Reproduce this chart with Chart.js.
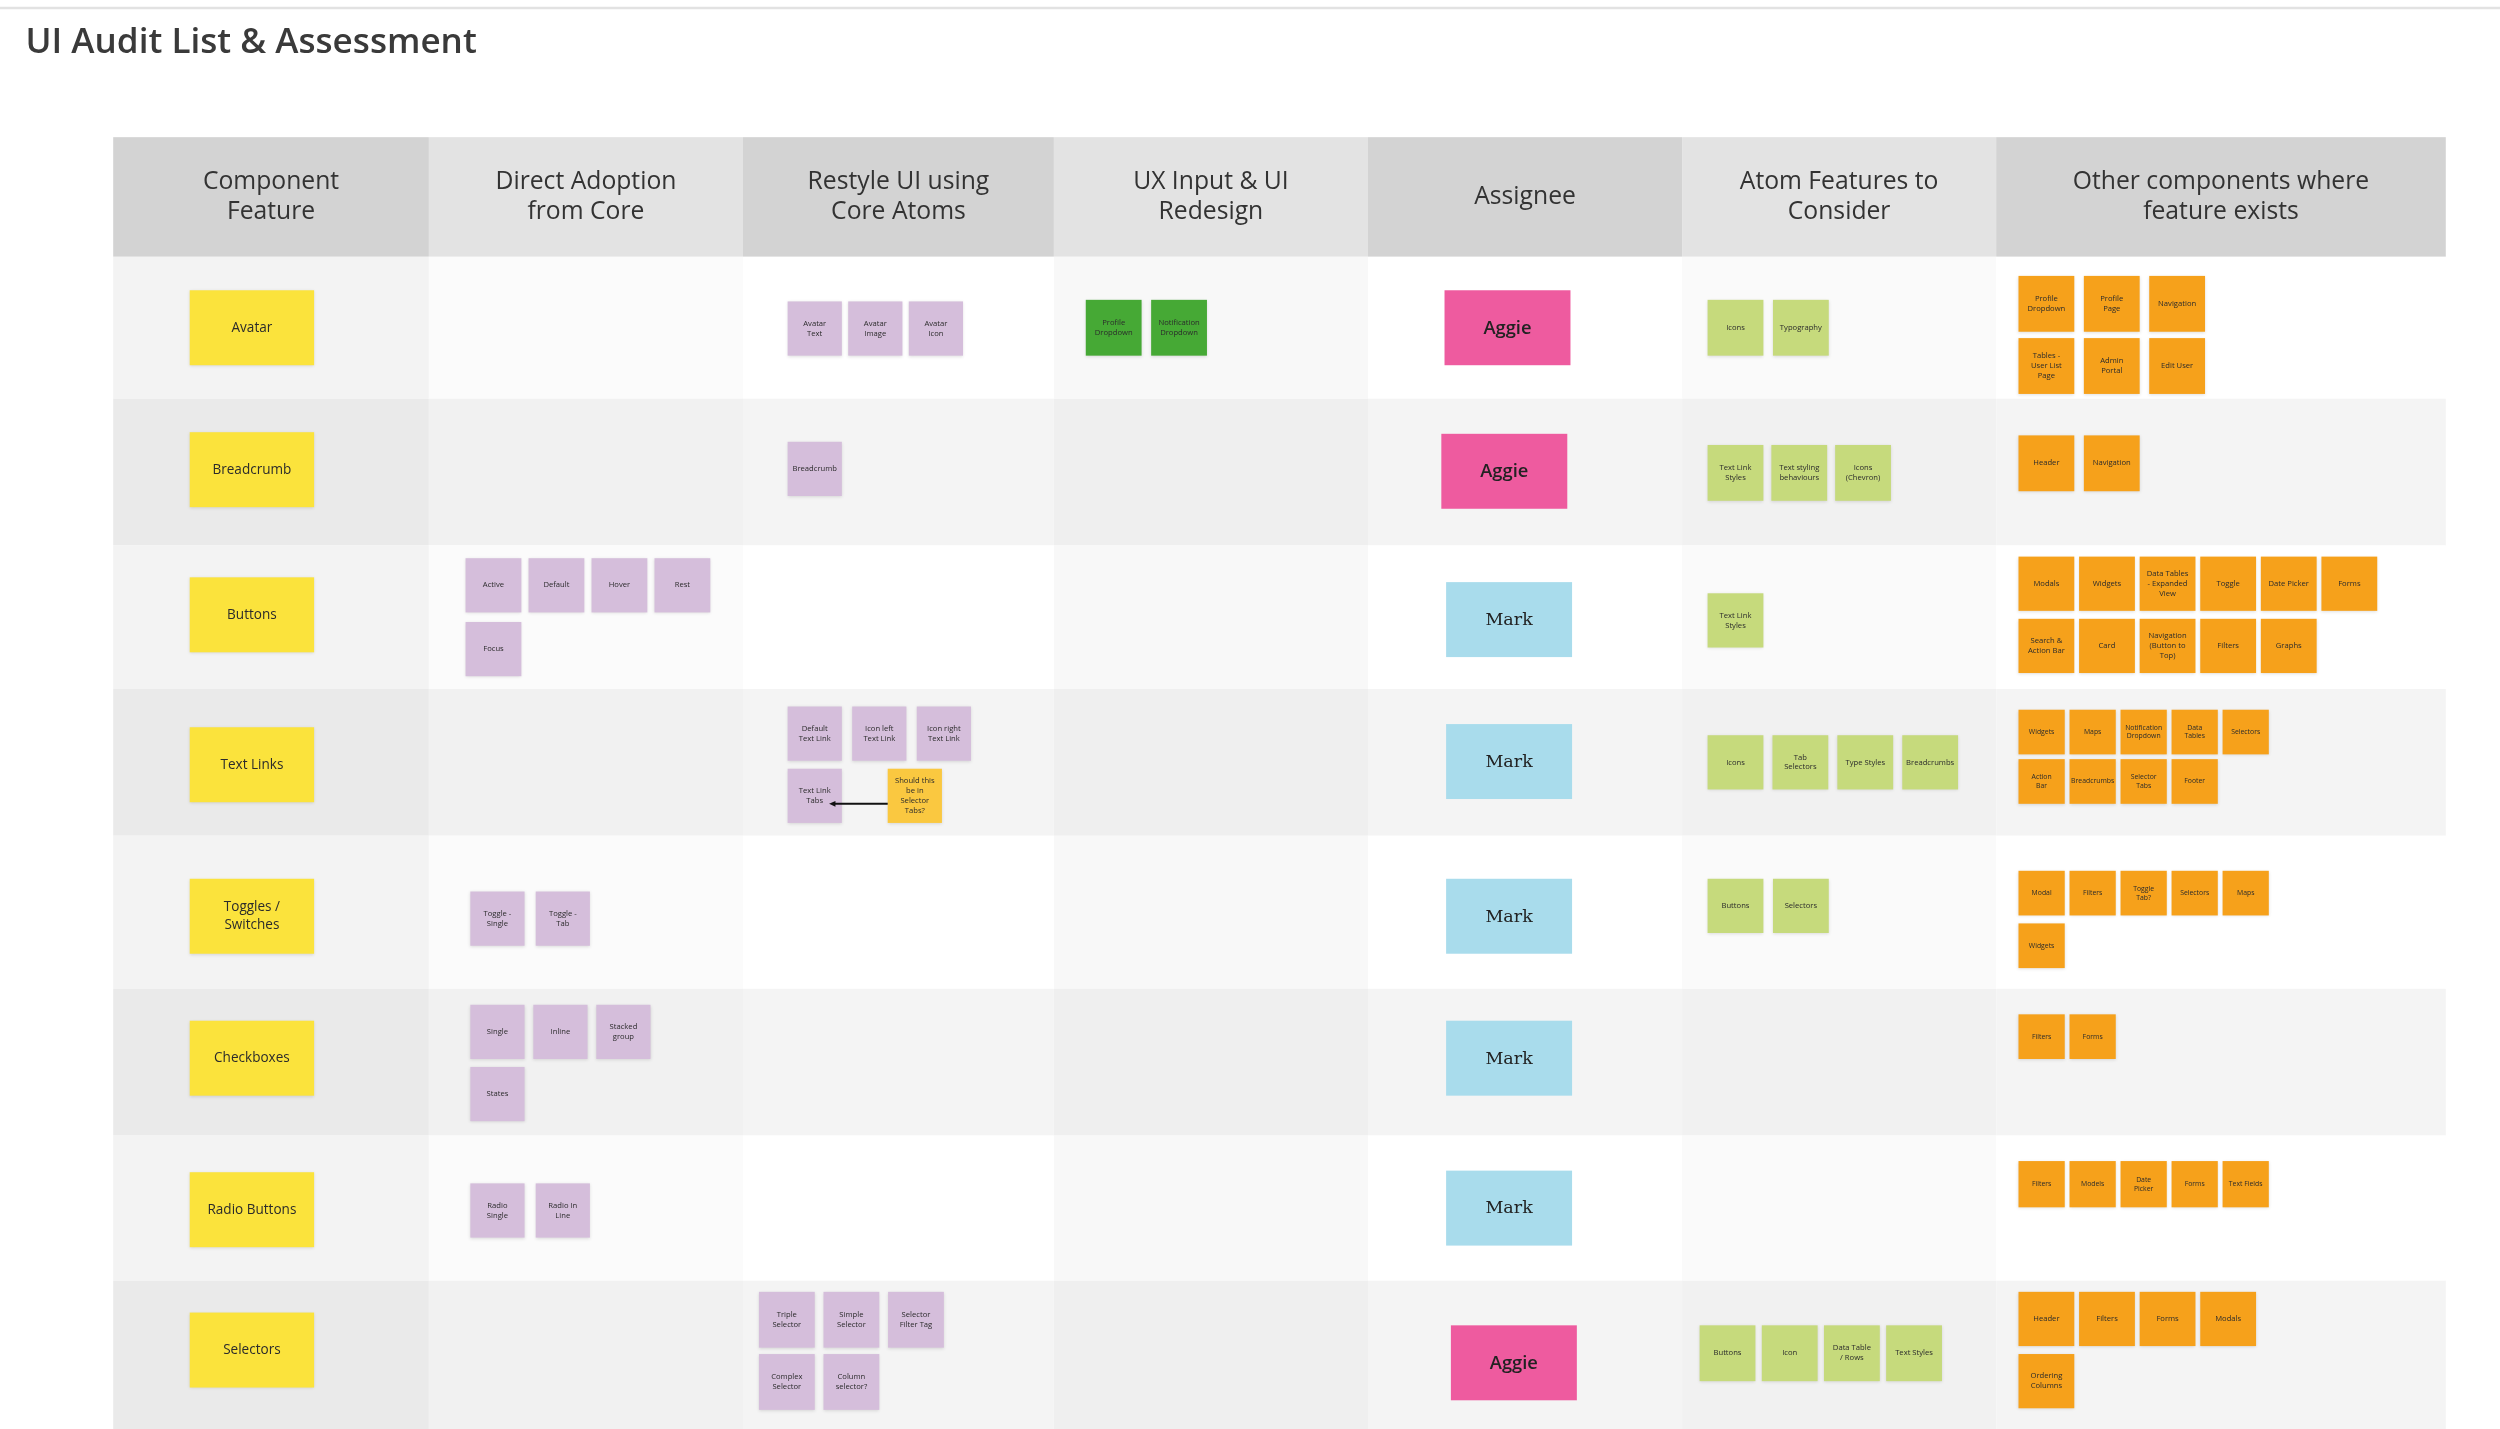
<!DOCTYPE html>
<html>
<head>
<meta charset="utf-8">
<script src="https://cdn.jsdelivr.net/npm/chart.js@4.4.0/dist/chart.umd.min.js"></script>
<style>
  html,body{margin:0;padding:0;background:#fff;}
  canvas{display:block;}
</style>
</head>
<body>
<canvas id="board" width="2500" height="1429"></canvas>
<script>
// ---- Board data (board units: 1568 x 896) ----
const title = 'UI Audit List & Assessment';
const columnHeaders = ['Component\nFeature', 'Direct Adoption\nfrom Core', 'Restyle UI using\nCore Atoms',
  'UX Input & UI\nRedesign', 'Assignee', 'Atom Features to\nConsider', 'Other components where\nfeature exists'];
const columnEdges = [71, 269, 466, 661, 858, 1055, 1252, 1534];
const rowEdges = [161, 250, 342, 432, 524, 620, 712, 803, 896];
const headerTop = 86;

const components = ['Avatar', 'Breadcrumb', 'Buttons', 'Text Links', 'Toggles /\nSwitches', 'Checkboxes', 'Radio Buttons', 'Selectors'];
const componentTops = [182, 271, 362, 456, 551, 640, 735, 823];

const assignees = ['Aggie', 'Aggie', 'Mark', 'Mark', 'Mark', 'Mark', 'Mark', 'Aggie'];
const assigneeLefts = [906, 904, 907, 907, 907, 907, 907, 910];
const assigneeTops = [182, 272, 365, 454, 551, 640, 734, 831];

// [row, gridRow, gridCol, label]
const directNotes = [
  [2,0,0,'Active'],[2,0,1,'Default'],[2,0,2,'Hover'],[2,0,3,'Rest'],[2,1,0,'Focus'],
  [4,0,0,'Toggle -\nSingle'],[4,0,1,'Toggle -\nTab'],
  [5,0,0,'Single'],[5,0,1,'Inline'],[5,0,2,'Stacked\ngroup'],[5,1,0,'States'],
  [6,0,0,'Radio\nSingle'],[6,0,1,'Radio In\nLine']
];
const restyleNotes = [
  [0,0,0,'Avatar\nText'],[0,0,1,'Avatar\nImage'],[0,0,2,'Avatar\nIcon'],
  [1,0,0,'Breadcrumb'],
  [3,0,0,'Default\nText Link'],[3,0,1,'Icon left\nText Link'],[3,0,2,'Icon right\nText Link'],[3,1,0,'Text Link\nTabs'],
  [7,0,0,'Triple\nSelector'],[7,0,1,'Simple\nSelector'],[7,0,2,'Selector\nFilter Tag'],[7,1,0,'Complex\nSelector'],[7,1,1,'Column\nselector?']
];
const questionNotes = [[3,1,1.55,'Should this\nbe in\nSelector\nTabs?']];
const redesignNotes = [[0,0,0,'Profile\nDropdown'],[0,0,1,'Notification\nDropdown']];
const atomNotes = [
  [0,0,0,'Icons'],[0,0,1,'Typography'],
  [1,0,0,'Text Link\nStyles'],[1,0,1,'Text styling\nbehaviours'],[1,0,2,'Icons\n(Chevron)'],
  [2,0,0,'Text Link\nStyles'],
  [3,0,0,'Icons'],[3,0,1,'Tab\nSelectors'],[3,0,2,'Type Styles'],[3,0,3,'Breadcrumbs'],
  [4,0,0,'Buttons'],[4,0,1,'Selectors'],
  [7,0,0,'Buttons'],[7,0,1,'Icon'],[7,0,2,'Data Table\n/ Rows'],[7,0,3,'Text Styles']
];
const otherNotes = [
  [0,0,0,'Profile\nDropdown'],[0,0,1,'Profile\nPage'],[0,0,2,'Navigation'],[0,1,0,'Tables -\nUser List\nPage'],[0,1,1,'Admin\nPortal'],[0,1,2,'Edit User'],
  [1,0,0,'Header'],[1,0,1,'Navigation'],
  [2,0,0,'Modals'],[2,0,1,'Widgets'],[2,0,2,'Data Tables\n- Expanded\nView'],[2,0,3,'Toggle'],[2,0,4,'Date Picker'],[2,0,5,'Forms'],
  [2,1,0,'Search &\nAction Bar'],[2,1,1,'Card'],[2,1,2,'Navigation\n(Button to\nTop)'],[2,1,3,'Filters'],[2,1,4,'Graphs'],
  [3,0,0,'Widgets'],[3,0,1,'Maps'],[3,0,2,'Notification\nDropdown'],[3,0,3,'Data\nTables'],[3,0,4,'Selectors'],
  [3,1,0,'Action\nBar'],[3,1,1,'Breadcrumbs'],[3,1,2,'Selector\nTabs'],[3,1,3,'Footer'],
  [4,0,0,'Modal'],[4,0,1,'Filters'],[4,0,2,'Toggle\nTab?'],[4,0,3,'Selectors'],[4,0,4,'Maps'],[4,1,0,'Widgets'],
  [5,0,0,'Filters'],[5,0,1,'Forms'],
  [6,0,0,'Filters'],[6,0,1,'Models'],[6,0,2,'Date\nPicker'],[6,0,3,'Forms'],[6,0,4,'Text Fields'],
  [7,0,0,'Header'],[7,0,1,'Filters'],[7,0,2,'Forms'],[7,0,3,'Modals'],[7,1,0,'Ordering\nColumns']
];

// cell layout 'col-row': [left, top, w, h, pitchX, pitchY]
const cellLayout = {
  '1-2':[292,350,35,34,39.5,40], '1-4':[295,559,34,34,41,39], '1-5':[295,630,34,34,39.5,39], '1-6':[295,742,34,34,41,39],
  '2-0':[494,189,34,34,38,39], '2-1':[494,277,34,34,38,39], '2-3':[494,443,34,34,40.5,39], '2-7':[476,810,35,35,40.5,39],
  '3-0':[681,188,35,35,41,39],
  '5-0':[1071,188,35,35,41,39], '5-1':[1071,279,35,35,40,39], '5-2':[1071,372,35,34,40,39], '5-3':[1071,461,35,34,40.7,39],
  '5-4':[1071,551,35,34,41,39], '5-7':[1066,831,35,35,39,39],
  '6-0':[1266,173,35,35,41,39], '6-1':[1266,273,35,35,41,39], '6-2':[1266,349,35,34,38,39], '6-3':[1266,445,29,28,32,31],
  '6-4':[1266,546,29,28,32,33], '6-5':[1266,636,29,28,32,31], '6-6':[1266,728,29,29,32,31], '6-7':[1266,810,35,34,38,39]
};

const headerColors = ['#d3d3d3','#e3e3e3','#d3d3d3','#e3e3e3','#d3d3d3','#e3e3e3','#d3d3d3'];
const bodyLight = ['#f3f3f3','#fbfbfb','#ffffff','#f8f8f8','#ffffff','#fafafa','#ffffff'];
const bodyDark = ['#eaeaea','#f1f1f1','#f4f4f4','#efefef','#f4f4f4','#f1f1f1','#f4f4f4'];

// ---- drawing plugin ----
const boardPlugin = {
  id: 'board',
  afterDraw(chart) {
    const {ctx, scales: {x, y}} = chart;
    const px = v => x.getPixelForValue(v), py = v => y.getPixelForValue(v);
    const k = chart.width / 1568;
    const font = (s, w, fam) => `${w || 400} ${s * k}px ${fam || '"Open Sans", Lato, sans-serif'}`;

    const rect = (x0, y0, x1, y1, color) => {
      ctx.fillStyle = color;
      ctx.fillRect(px(x0), py(y0), px(x1) - px(x0), py(y1) - py(y0));
    };
    const text = (str, cx, cy, size, color, weight, fam, lh) => {
      const lines = str.split('\n');
      ctx.font = font(size, weight, fam);
      ctx.fillStyle = color;
      ctx.textAlign = 'center'; ctx.textBaseline = 'middle';
      const h = size * (lh || 1.25);
      lines.forEach((l, i) => ctx.fillText(l, px(cx), py(cy + (i - (lines.length - 1) / 2) * h)));
    };
    const note = (x0, y0, w, h, color, label, size) => {
      ctx.save();
      ctx.shadowColor = 'rgba(0,0,0,0.12)'; ctx.shadowBlur = 2 * k; ctx.shadowOffsetY = 0.6 * k;
      rect(x0, y0, x0 + w, y0 + h, color);
      ctx.restore();
      text(label, x0 + w / 2, y0 + h / 2, size, '#2b2b2b', 400, null, 1.3);
    };

    ctx.save();
    // top border
    ctx.strokeStyle = '#e2e2e2'; ctx.lineWidth = 1.5 * k;
    ctx.beginPath(); ctx.moveTo(px(0), py(5)); ctx.lineTo(px(1568), py(5)); ctx.stroke();
    // title
    ctx.font = font(22, 600); ctx.fillStyle = '#3a3a3a'; ctx.textAlign = 'left'; ctx.textBaseline = 'middle';
    ctx.fillText(title, px(16), py(27));

    // header + body cells
    columnHeaders.forEach((h, c) => {
      rect(columnEdges[c], headerTop, columnEdges[c + 1], rowEdges[0], headerColors[c]);
      text(h, (columnEdges[c] + columnEdges[c + 1]) / 2, (headerTop + rowEdges[0]) / 2, 15.5, '#333', 400, null, 1.22);
      for (let r = 0; r < components.length; r++)
        rect(columnEdges[c], rowEdges[r], columnEdges[c + 1], rowEdges[r + 1], r % 2 ? bodyDark[c] : bodyLight[c]);
    });

    // component + assignee notes
    components.forEach((name, r) => note(119, componentTops[r], 78, 47, '#fbe33c', name, 8.5));
    assignees.forEach((name, r) => {
      const aggie = name === 'Aggie';
      ctx.save(); rect(assigneeLefts[r], assigneeTops[r], assigneeLefts[r] + 79, assigneeTops[r] + 47, aggie ? '#ee5b9f' : '#a9dcec'); ctx.restore();
      text(name, assigneeLefts[r] + 39.5, assigneeTops[r] + 24, aggie ? 11.5 : 11,
        '#222', aggie ? 600 : 400, aggie ? '"Open Sans", sans-serif' : '"DejaVu Serif", serif');
    });

    // grid notes
    const group = (list, col, color) => list.forEach(([r, gr, gc, label]) => {
      const [l, t, w, h, pxs, pys] = cellLayout[col + '-' + r];
      note(l + gc * pxs, t + gr * pys, w, h, color, label, w < 32 ? 4.3 : 4.8);
    });
    group(directNotes, 1, '#d5bedb');
    group(restyleNotes, 2, '#d5bedb');
    group(questionNotes, 2, '#fac840');
    group(redesignNotes, 3, '#46a935');
    group(atomNotes, 5, '#c6da7c');
    group(otherNotes, 6, '#f6a11b');

    // arrow from question note to "Text Link Tabs"
    const [l, t, w, h, pxs, pys] = cellLayout['2-3'];
    const ay = t + pys + 22, ax0 = l + 1.55 * pxs, ax1 = l + w / 2 + 9;
    ctx.strokeStyle = '#111'; ctx.fillStyle = '#111'; ctx.lineWidth = 1.3 * k;
    ctx.beginPath(); ctx.moveTo(px(ax0), py(ay)); ctx.lineTo(px(ax1 + 3), py(ay)); ctx.stroke();
    ctx.beginPath(); ctx.moveTo(px(ax1), py(ay)); ctx.lineTo(px(ax1 + 4), py(ay - 1.8)); ctx.lineTo(px(ax1 + 4), py(ay + 1.8)); ctx.closePath(); ctx.fill();
    ctx.restore();
  }
};

new Chart(document.getElementById('board'), {
  type: 'scatter',
  data: { datasets: [{ data: [] }] },
  options: {
    responsive: false,
    animation: false,
    layout: { padding: 0 },
    scales: {
      x: { type: 'linear', min: 0, max: 1568, display: false },
      y: { type: 'linear', min: 0, max: 896, reverse: true, display: false }
    },
    plugins: { legend: { display: false }, tooltip: { enabled: false } }
  },
  plugins: [boardPlugin]
});
</script>
</body>
</html>
